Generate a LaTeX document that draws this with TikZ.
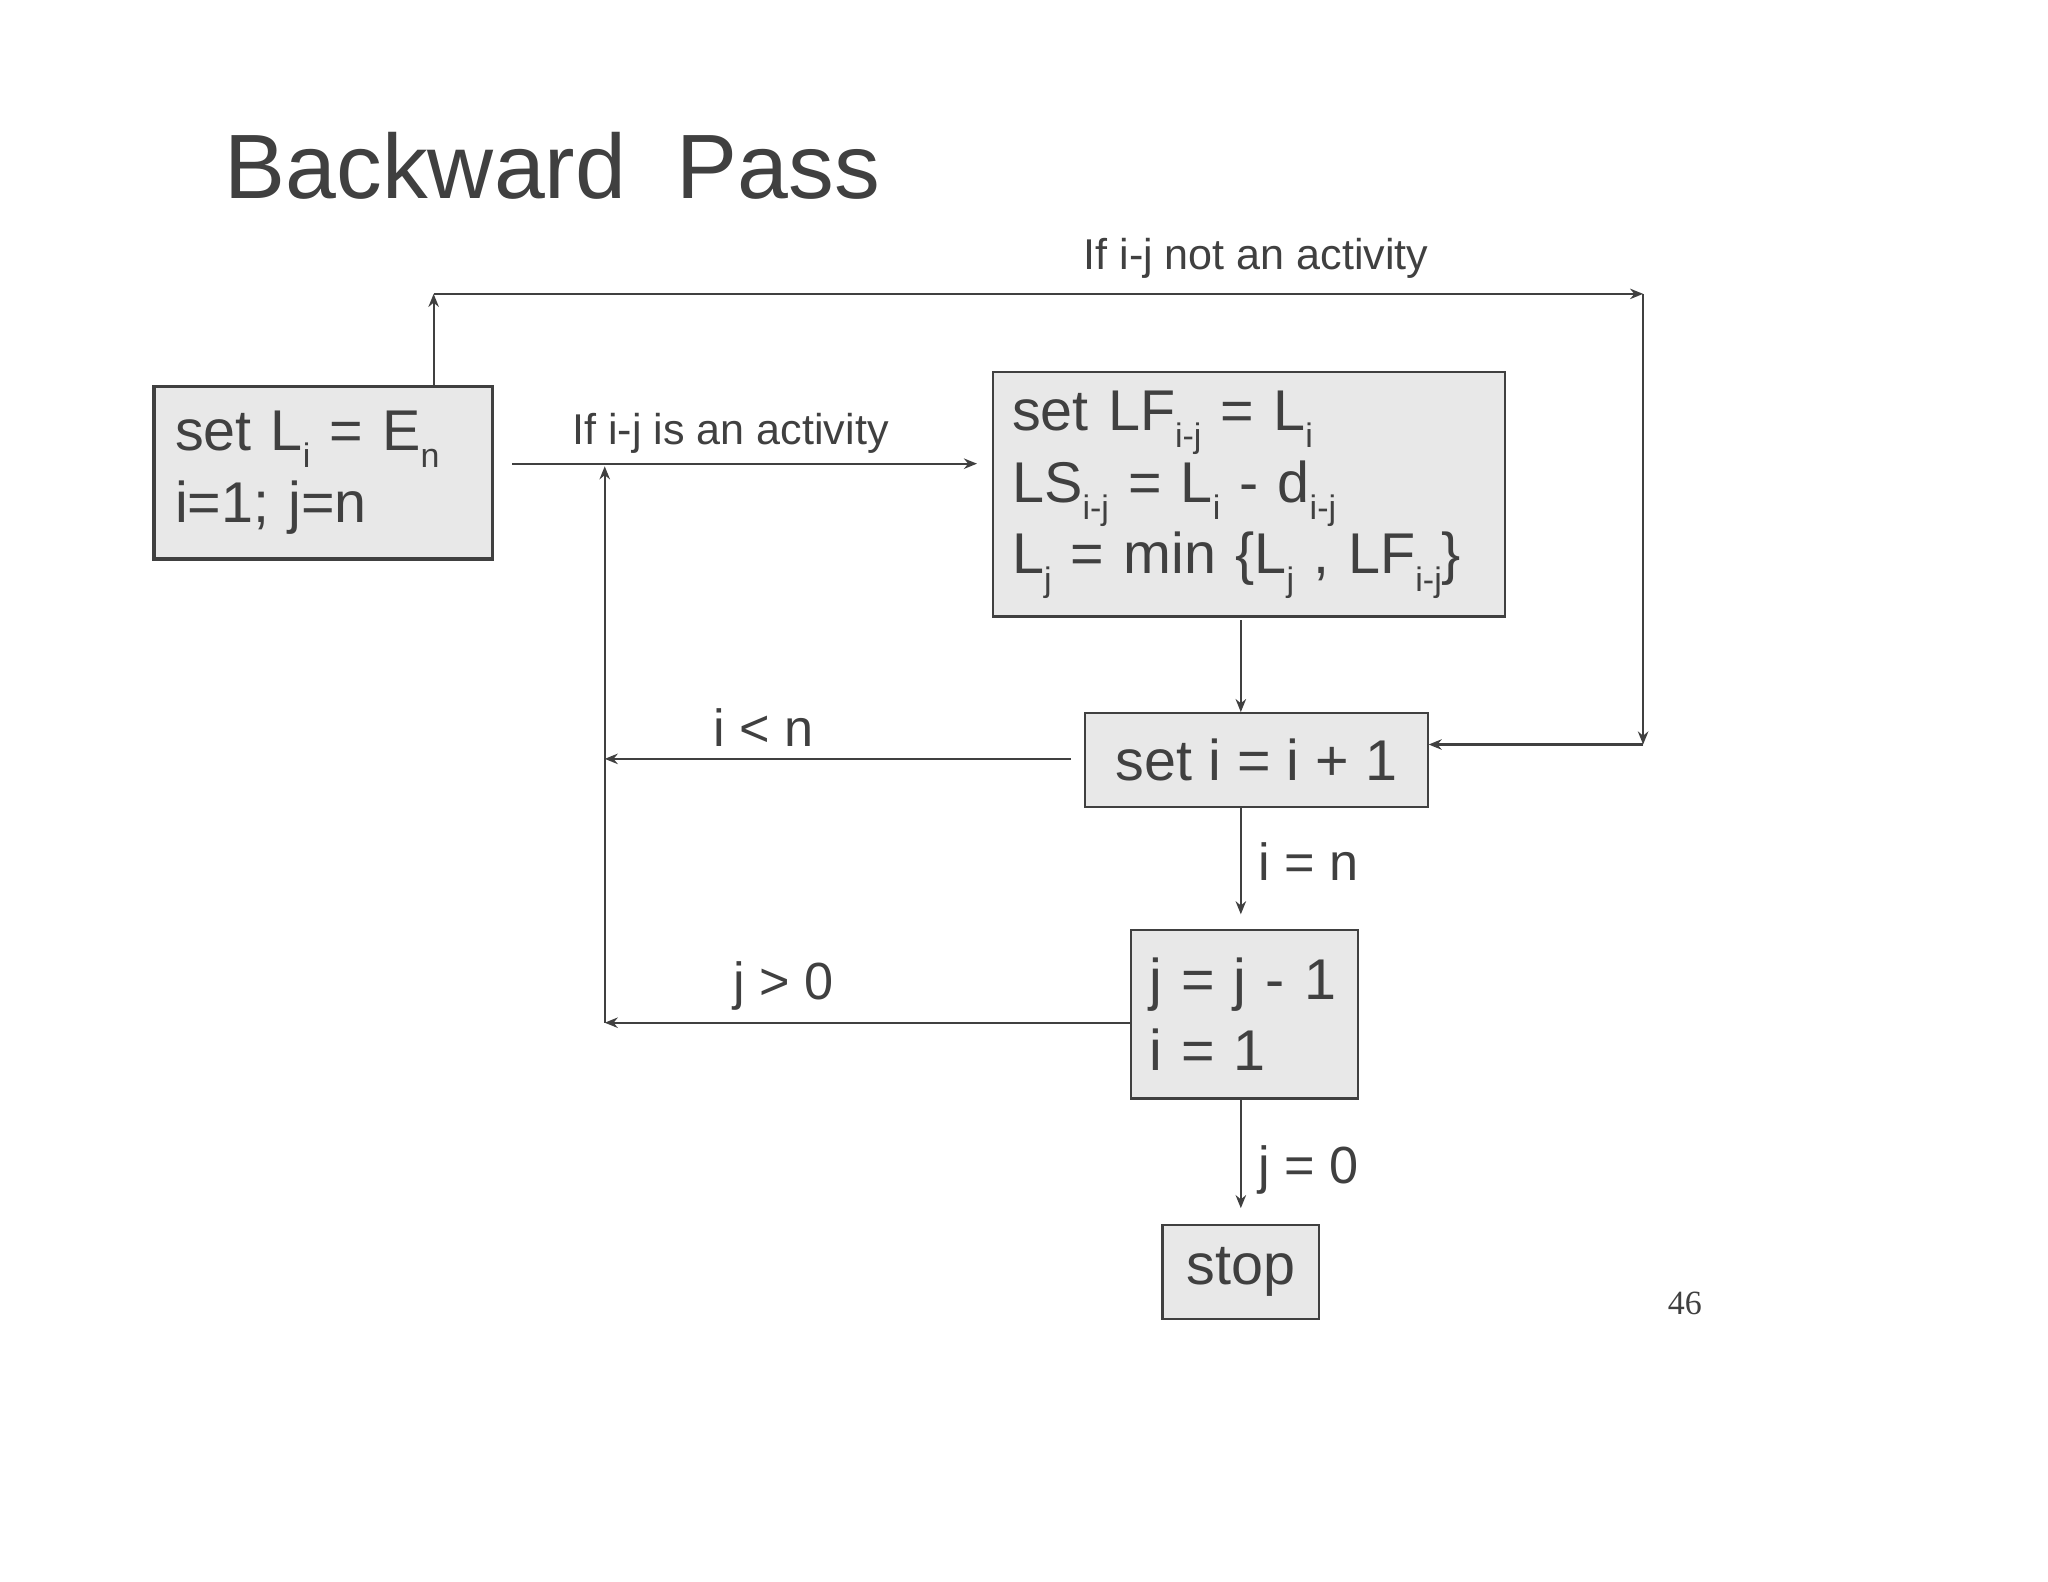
\documentclass[tikz,border=0pt]{standalone}
\usepackage{fontspec}
\setmainfont{Liberation Sans}
\newfontfamily\pgserif{Liberation Serif}
\usetikzlibrary{arrows.meta}
\definecolor{ink}{HTML}{404040}
\definecolor{boxfill}{HTML}{E8E8E8}
\newcommand\dn[1]{\raisebox{-0.3em}{\fontsize{13}{13}\selectfont #1}}
\begin{document}
\begin{tikzpicture}[x=0.5pt,y=-0.5pt,
  box/.style={draw=ink,fill=boxfill,line width=0.8pt,text=ink,inner sep=0pt,
    font=\fontsize{22}{27.5}\selectfont},
  lab/.style={text=ink,font=\fontsize{16.5}{20}\selectfont},
  big/.style={text=ink,font=\fontsize{20}{24}\selectfont},
  arr/.style={draw=ink,line width=0.8pt,-{Stealth[length=5pt,width=4pt]}}]
\useasboundingbox[fill=white] (0,0) rectangle (1568,1211);
\node[text=ink,font=\fontsize{35}{40}\selectfont,anchor=base west] (title) at (165,152) {Backward\ \ Pass};
\node[box,line width=1.3pt,minimum width=129.5pt,minimum height=66pt,text width=113.5pt,align=left] (a) at (247.5,362)
  {\mbox{set L\dn{i} = E\dn{n}}\\i=1; j=n};
\node[box,minimum width=196pt,minimum height=93.5pt,text width=181pt,align=left] (b) at (956,378.5)
  {\mbox{set LF\dn{i-j} = L\dn{i}}\\\mbox{LS\dn{i-j} = L\dn{i} - d\dn{i-j}}\\\mbox{L\dn{j} = min \{L\dn{j} , LF\dn{i-j}\}}};
\node[box,minimum width=131pt,minimum height=36pt,align=center] (c) at (962,582) {set i = i + 1};
\node[box,minimum width=87pt,minimum height=64.5pt,text width=73pt,align=left] (d) at (953,776.5) {\mbox{j = j - 1}\\i = 1};
\node[box,minimum width=60pt,minimum height=36pt,align=center] (e) at (950,974) {stop};
\node[font=\fontsize{13}{15}\selectfont\pgserif,text=ink] (pg) at (1290,998) {46};
% loop corner points
\coordinate (tl) at (332,225);
\coordinate (tr) at (1258,225);
\coordinate (br) at (1258,570);
\coordinate (ain) at (392,355);
\coordinate (bin) at (748,355);
\coordinate (vt) at (463,357);
\coordinate (vlo) at (463,783);
\coordinate (vmid) at (463,581);
\coordinate (cout) at (820,581);
\draw[arr] (a.north -| tl) -- (tl);
\draw[arr] (tl) -- node[lab,above=2pt,pos=0.68] (l1) {If i-j not an activity} (tr);
\draw[arr] (tr) -- (br);
\draw[arr] (br) -- (br -| c.east);
\draw[arr] (ain) -- node[lab,above=0pt,pos=0.47] (l2) {If i-j is an activity} (bin);
\draw[arr] (vlo) -- (vt);
\draw[arr] (cout) -- node[big,above=1pt,pos=0.66] (l3) {i < n} (vmid);
\draw[arr] (d.west |- vlo) -- node[big,above=1pt,pos=0.66] (l4) {j > 0} (vlo);
\draw[arr] (950,475) -- (c.north -| 950,0);
\draw[arr] (c.south -| 950,0) -- node[big,right=3pt] (l5) {i = n} (950,700);
\draw[arr] (d.south -| 950,0) -- node[big,right=3pt,pos=0.65] (l6) {j = 0} (950,925);
\end{tikzpicture}
\end{document}
